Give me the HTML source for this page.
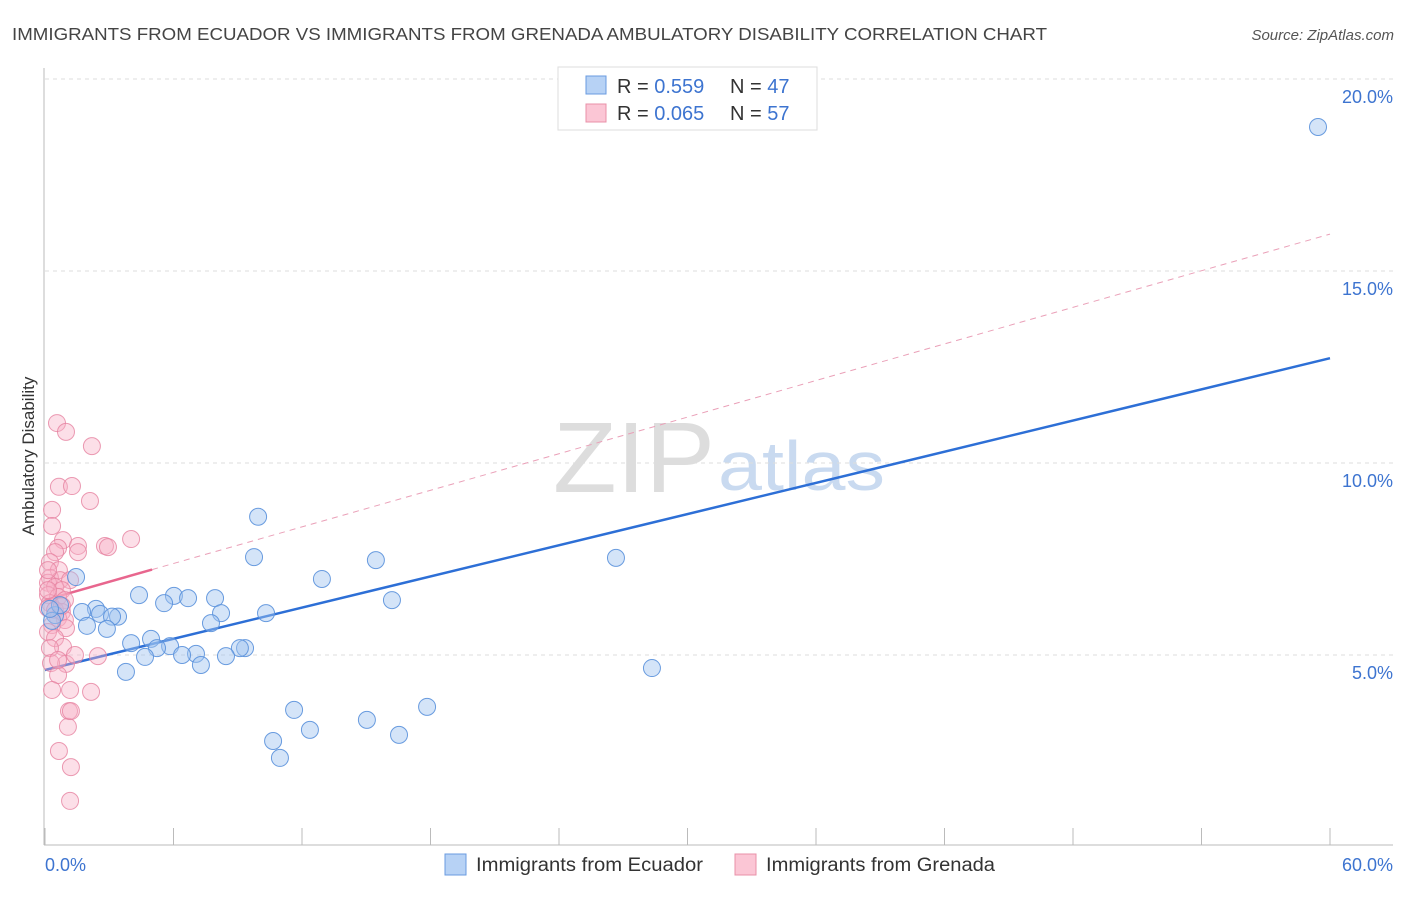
<!DOCTYPE html>
<html><head><meta charset="utf-8"><style>
body{margin:0;background:#fff;font-family:"Liberation Sans",sans-serif}
svg text{font-family:"Liberation Sans",sans-serif}
</style></head><body>
<svg width="1406" height="892" viewBox="0 0 1406 892">
<text x="12" y="40" font-size="17.5" fill="#444" textLength="1035" lengthAdjust="spacingAndGlyphs">IMMIGRANTS FROM ECUADOR VS IMMIGRANTS FROM GRENADA AMBULATORY DISABILITY CORRELATION CHART</text>
<text x="1394" y="40" font-size="15" fill="#555" font-style="italic" text-anchor="end">Source: ZipAtlas.com</text>
<g>
<text x="553" y="492" font-size="100" font-family="Liberation Serif" fill="#ddd" textLength="162" lengthAdjust="spacingAndGlyphs">ZIP</text>
<text x="718" y="490" font-size="70" fill="#c9daf0" textLength="167" lengthAdjust="spacingAndGlyphs">atlas</text>
</g>
<g id="grid"></g>
<g id="axes"></g>
<g id="lines"></g>
<g id="pts"></g>
<text transform="translate(34,456) rotate(-90)" font-size="17" fill="#333" text-anchor="middle">Ambulatory Disability</text>
<g>
<rect x="558" y="67" width="259" height="63" fill="#fff" stroke="#ddd"/>
<rect x="586" y="76" width="20" height="18" fill="#b7d2f5" stroke="#6a9be0"/>
<rect x="586" y="104" width="20" height="18" fill="#fbc6d5" stroke="#e890a8"/>
<text x="617" y="93" font-size="20" fill="#333">R = <tspan fill="#3d74d0">0.559</tspan></text>
<text x="730" y="93" font-size="20" fill="#333">N = <tspan fill="#3d74d0">47</tspan></text>
<text x="617" y="120" font-size="20" fill="#333">R = <tspan fill="#3d74d0">0.065</tspan></text>
<text x="730" y="120" font-size="20" fill="#333">N = <tspan fill="#3d74d0">57</tspan></text>
</g>
<g>
<rect x="445" y="854" width="21" height="21" fill="#b7d2f5" stroke="#6a9be0"/>
<text x="476" y="871" font-size="19" fill="#333" textLength="227" lengthAdjust="spacingAndGlyphs">Immigrants from Ecuador</text>
<rect x="735" y="854" width="21" height="21" fill="#fbc6d5" stroke="#e890a8"/>
<text x="766" y="871" font-size="19" fill="#333" textLength="229" lengthAdjust="spacingAndGlyphs">Immigrants from Grenada</text>
</g>
</svg>
<script>
const yTicks=[5,10,15,20];
const yTickLabels=["5.0%","10.0%","15.0%","20.0%"];
const xTickLabels=["0.0%","60.0%"];
const ecuadorX=[59.44,9.95,9.76,15.45,26.66,12.93,1.45,4.39,6.02,6.68,7.94,5.56,16.2,2.38,1.73,2.57,3.41,3.13,8.22,10.32,0.47,0.33,1.96,2.89,7.75,4.95,4.02,5.84,5.23,9.34,9.1,7.05,6.4,8.45,4.67,7.28,3.78,28.34,11.63,17.84,15.03,12.37,10.65,16.53,10.97,0.7,0.23];
const ecuadorY=[18.75,8.6,7.55,7.47,7.53,6.98,7.03,6.56,6.54,6.48,6.48,6.35,6.43,6.2,6.12,6.07,6.0,6.0,6.09,6.09,6.04,5.89,5.76,5.68,5.83,5.42,5.31,5.23,5.18,5.18,5.18,5.03,5.0,4.97,4.95,4.74,4.56,4.66,3.57,3.65,3.31,3.05,2.76,2.92,2.32,6.3,6.2];
const grenadaX=[0.56,0.98,2.19,0.65,1.26,2.10,0.33,0.33,0.84,1.54,2.80,2.94,4.02,0.61,0.47,1.54,0.23,0.65,0.23,0.70,1.17,0.14,0.47,0.79,0.14,0.61,0.93,0.23,0.14,0.47,0.79,0.61,0.93,0.33,0.98,0.14,0.47,0.84,2.47,0.23,0.98,0.28,0.61,1.17,2.15,1.12,1.07,1.21,0.65,1.21,1.17,0.14,0.14,0.79,0.61,0.33,1.40];
const grenadaY=[11.04,10.81,10.44,9.38,9.40,9.01,8.78,8.36,7.99,7.84,7.84,7.81,8.02,7.79,7.68,7.68,7.42,7.21,7.01,6.95,6.95,6.88,6.77,6.69,6.56,6.51,6.43,6.35,6.22,6.17,6.12,5.96,5.91,5.78,5.70,5.60,5.44,5.21,4.97,5.18,4.77,4.79,4.48,4.09,4.04,3.54,3.13,3.54,2.50,2.08,1.20,7.21,6.69,6.28,4.87,4.09,5.00];
const ecuadorTrend=[4.61,12.73];
const grenadaTrend=[6.43,15.96];
const sx=v=>45+v/60*1285, sy=v=>847-v*38.4;
const NS="http://www.w3.org/2000/svg";
function mk(t,a,p){const e=document.createElementNS(NS,t);for(const k in a)e.setAttribute(k,a[k]);p.appendChild(e);return e;}
const grid=document.getElementById('grid'),axes=document.getElementById('axes'),lines=document.getElementById('lines'),pts=document.getElementById('pts');
yTicks.forEach((v,i)=>{
 const l=mk('line',{x1:45,x2:1393,y1:sy(v),y2:sy(v),stroke:'#ddd','stroke-dasharray':'4,4'},grid);
 
 
 const t=mk('text',{x:1393,y:sy(v)+24,'font-size':18,fill:'#3d74d0','text-anchor':'end'},grid);
 t.textContent=yTickLabels[i];
 
 
});
const ya=mk('line',{x1:44,x2:44,y1:68,y2:845,stroke:'#bbb'},axes);


const xa=mk('line',{x1:44,x2:1393,y1:845,y2:845,stroke:'#bbb'},axes);


for(let i=0;i<=10;i++){const x=sx(i*6);
 const tk=mk('line',{x1:x,x2:x,y1:828,y2:845,stroke:'#bbb'},axes);
 
 }
[[0,'start',45],[60,'end',1393]].forEach((d,i)=>{
 const t=mk('text',{x:d[2],y:871,'font-size':18,fill:'#3d74d0','text-anchor':d[1]},axes);
 t.textContent=xTickLabels[i];
 
 });
function pts2(X,Y,fill,stroke,name){X.forEach((x,i)=>{
 const c=mk('circle',{cx:sx(x),cy:sy(Y[i]),r:8.5,fill:fill,stroke:stroke,'stroke-width':1},pts);
 
 });}
pts2(grenadaX,grenadaY,'rgba(248,175,198,0.4)','rgba(230,130,160,0.8)','point-grenada');
pts2(ecuadorX,ecuadorY,'rgba(160,196,240,0.45)','rgba(90,145,220,0.9)','point-ecuador');
const gy=x=>grenadaTrend[0]+(grenadaTrend[1]-grenadaTrend[0])*x/60;
const ey=x=>ecuadorTrend[0]+(ecuadorTrend[1]-ecuadorTrend[0])*x/60;
const gd=mk('line',{x1:sx(5),y1:sy(gy(5)),x2:sx(60),y2:sy(gy(60)),stroke:'#eaa0b8','stroke-dasharray':'6,5','stroke-width':1},lines);


const gs=mk('line',{x1:sx(0),y1:sy(gy(0)),x2:sx(5),y2:sy(gy(5)),stroke:'#e8668e','stroke-width':2.5},lines);


const el=mk('line',{x1:sx(0),y1:sy(ey(0)),x2:sx(60),y2:sy(ey(60)),stroke:'#2d6fd6','stroke-width':2.5},lines);


</script>
</body></html>
